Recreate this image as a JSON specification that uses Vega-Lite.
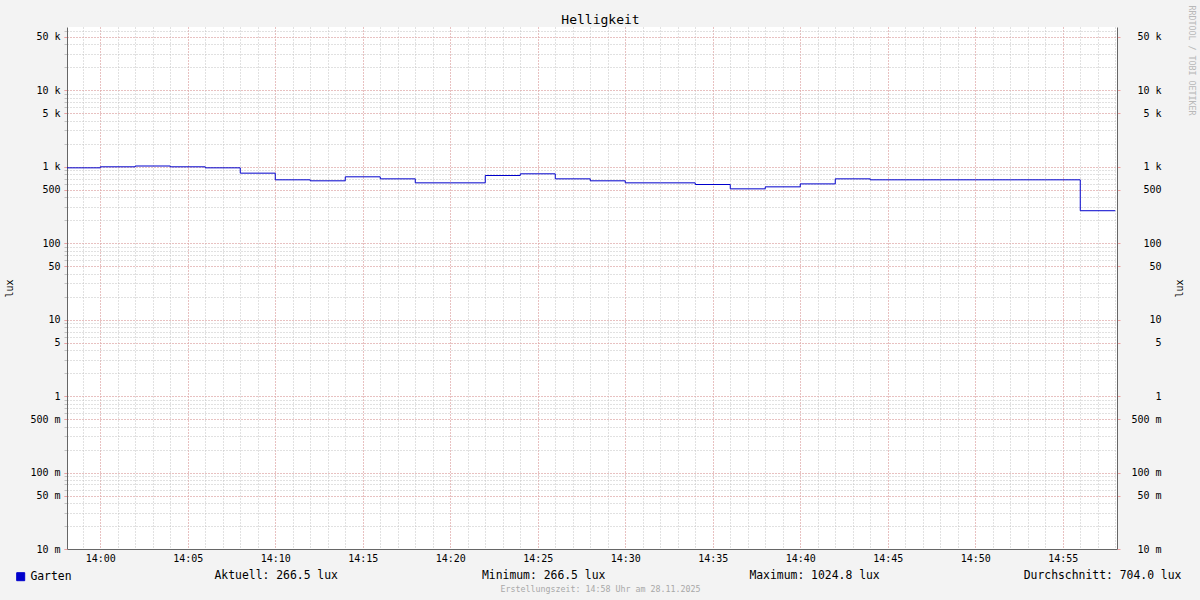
{
  "$schema": "https://vega.github.io/schema/vega-lite/v6.json",
  "width": 1050,
  "height": 522,
  "autosize": {"type": "none"},
  "padding": {"left": 67, "top": 27, "right": 83, "bottom": 51},
  "background": "#f3f3f3",
  "config": {
    "view": {"fill": "white", "stroke": null},
    "font": "DejaVu Sans Mono",
    "axis": {"labelFont": "DejaVu Sans Mono", "titleFont": "DejaVu Sans Mono", "labelColor": "#000000", "titleColor": "#000000", "titleFontWeight": "normal", "labelOverlap": false, "labelFlush": false, "zindex": 0}
  },
  "data": {
    "values": [
      {"t": "2025-11-28T13:58:00Z", "v": 970, "s": "Garten"},
      {"t": "2025-11-28T14:00:00Z", "v": 1000, "s": "Garten"},
      {"t": "2025-11-28T14:02:00Z", "v": 1024.8, "s": "Garten"},
      {"t": "2025-11-28T14:04:00Z", "v": 1000, "s": "Garten"},
      {"t": "2025-11-28T14:06:00Z", "v": 970, "s": "Garten"},
      {"t": "2025-11-28T14:08:00Z", "v": 826, "s": "Garten"},
      {"t": "2025-11-28T14:10:00Z", "v": 676, "s": "Garten"},
      {"t": "2025-11-28T14:12:00Z", "v": 656, "s": "Garten"},
      {"t": "2025-11-28T14:14:00Z", "v": 740, "s": "Garten"},
      {"t": "2025-11-28T14:16:00Z", "v": 696, "s": "Garten"},
      {"t": "2025-11-28T14:18:00Z", "v": 617, "s": "Garten"},
      {"t": "2025-11-28T14:20:00Z", "v": 617, "s": "Garten"},
      {"t": "2025-11-28T14:22:00Z", "v": 770, "s": "Garten"},
      {"t": "2025-11-28T14:24:00Z", "v": 810, "s": "Garten"},
      {"t": "2025-11-28T14:26:00Z", "v": 696, "s": "Garten"},
      {"t": "2025-11-28T14:28:00Z", "v": 656, "s": "Garten"},
      {"t": "2025-11-28T14:30:00Z", "v": 617, "s": "Garten"},
      {"t": "2025-11-28T14:32:00Z", "v": 617, "s": "Garten"},
      {"t": "2025-11-28T14:34:00Z", "v": 587, "s": "Garten"},
      {"t": "2025-11-28T14:36:00Z", "v": 515, "s": "Garten"},
      {"t": "2025-11-28T14:38:00Z", "v": 547, "s": "Garten"},
      {"t": "2025-11-28T14:40:00Z", "v": 598, "s": "Garten"},
      {"t": "2025-11-28T14:42:00Z", "v": 696, "s": "Garten"},
      {"t": "2025-11-28T14:44:00Z", "v": 676, "s": "Garten"},
      {"t": "2025-11-28T14:46:00Z", "v": 676, "s": "Garten"},
      {"t": "2025-11-28T14:48:00Z", "v": 676, "s": "Garten"},
      {"t": "2025-11-28T14:50:00Z", "v": 676, "s": "Garten"},
      {"t": "2025-11-28T14:52:00Z", "v": 676, "s": "Garten"},
      {"t": "2025-11-28T14:54:00Z", "v": 676, "s": "Garten"},
      {"t": "2025-11-28T14:56:00Z", "v": 266.5, "s": "Garten"},
      {"t": "2025-11-28T14:58:00Z", "v": 266.5, "s": "Garten"}
    ]
  },
  "resolve": {"axis": {"x": "independent", "y": "independent"}},
  "layer": [
    {
      "mark": {"type": "line", "interpolate": "step-after", "strokeOpacity": 0, "clip": true},
      "encoding": {
        "x": {
          "field": "t", "type": "temporal",
          "scale": {"type": "utc", "domain": [1764338286000, 1764341886000]},
          "axis": {
            "orient": "bottom",
            "values": [1764338340000,1764338400000,1764338460000,1764338520000,1764338580000,1764338640000,1764338700000,1764338760000,1764338820000,1764338880000,1764338940000,1764339000000,1764339060000,1764339120000,1764339180000,1764339240000,1764339300000,1764339360000,1764339420000,1764339480000,1764339540000,1764339600000,1764339660000,1764339720000,1764339780000,1764339840000,1764339900000,1764339960000,1764340020000,1764340080000,1764340140000,1764340200000,1764340260000,1764340320000,1764340380000,1764340440000,1764340500000,1764340560000,1764340620000,1764340680000,1764340740000,1764340800000,1764340860000,1764340920000,1764340980000,1764341040000,1764341100000,1764341160000,1764341220000,1764341280000,1764341340000,1764341400000,1764341460000,1764341520000,1764341580000,1764341640000,1764341700000,1764341760000,1764341820000,1764341880000],
            "labels": false, "ticks": false, "domain": false,
            "grid": true, "gridDash": [1, 2], "gridColor": "#c2c2c2",
            "title": null
          }
        },
        "y": {
          "field": "v", "type": "quantitative",
          "scale": {"type": "log", "domain": [0.01, 67500], "nice": false},
          "axis": {
            "orient": "left",
            "values": [0.01,0.02,0.03,0.04,0.05,0.06,0.07,0.08,0.09,0.1,0.2,0.3,0.4,0.5,0.6,0.7,0.8,0.9,1,2,3,4,5,6,7,8,9,10,20,30,40,50,60,70,80,90,100,200,300,400,500,600,700,800,900,1000,2000,3000,4000,5000,6000,7000,8000,9000,10000,20000,30000,40000,50000,60000],
            "labels": false, "domain": false,
            "tickSize": 3, "tickColor": "#c2c2c2",
            "grid": true, "gridDash": [1, 2], "gridColor": "#c2c2c2",
            "title": null
          }
        }
      }
    },
    {
      "mark": {"type": "line", "interpolate": "step-after", "strokeWidth": 1, "clip": true},
      "encoding": {
        "x": {
          "field": "t", "type": "temporal",
          "scale": {"type": "utc", "domain": [1764338286000, 1764341886000]},
          "axis": {
            "orient": "bottom",
            "values": [1764338400000,1764338700000,1764339000000,1764339300000,1764339600000,1764339900000,1764340200000,1764340500000,1764340800000,1764341100000,1764341400000,1764341700000],
            "format": "%H:%M",
            "labelFontSize": 10,
            "labelPadding": 4,
            "ticks": false,
            "grid": true, "gridDash": [1, 2], "gridColor": "#eea0a0",
            "domainColor": "#666666",
            "title": "Aktuell: 266.5 lux\u00a0\u00a0\u00a0\u00a0\u00a0\u00a0\u00a0\u00a0\u00a0\u00a0\u00a0\u00a0\u00a0\u00a0\u00a0\u00a0\u00a0\u00a0\u00a0\u00a0\u00a0Minimum: 266.5 lux\u00a0\u00a0\u00a0\u00a0\u00a0\u00a0\u00a0\u00a0\u00a0\u00a0\u00a0\u00a0\u00a0\u00a0\u00a0\u00a0\u00a0\u00a0\u00a0\u00a0\u00a0Maximum: 1024.8 lux\u00a0\u00a0\u00a0\u00a0\u00a0\u00a0\u00a0\u00a0\u00a0\u00a0\u00a0\u00a0\u00a0\u00a0\u00a0\u00a0\u00a0\u00a0\u00a0\u00a0\u00a0Durchschnitt: 704.0 lux",
            "titleX": 147,
            "titleY": 26,
            "titleAlign": "left",
            "titleBaseline": "middle",
            "titleFontSize": 11.4,
            "titleLimit": 2000
          }
        },
        "y": {
          "field": "v", "type": "quantitative",
          "scale": {"type": "log", "domain": [0.01, 67500], "nice": false},
          "axis": {
            "orient": "left",
            "values": [0.01,0.05,0.1,0.5,1,5,10,50,100,500,1000,5000,10000,50000],
            "labelExpr": "datum.value >= 1000 ? format(datum.value / 1000, 'd') + ' k' : datum.value >= 1 ? format(datum.value, 'd') + '\u00a0\u00a0' : format(datum.value * 1000, 'd') + ' m'",
            "labelFontSize": 10,
            "labelPadding": 4,
            "tickSize": 3,
            "tickColor": "#eea0a0",
            "grid": true, "gridDash": [1, 2], "gridColor": "#eea0a0",
            "domainColor": "#666666",
            "title": "lux",
            "titleAngle": 270,
            "titleX": -58,
            "titleY": 261,
            "titleAlign": "center",
            "titleBaseline": "middle",
            "titleFontSize": 10
          }
        },
        "color": {
          "field": "s", "type": "nominal",
          "scale": {"range": ["#0000cc"]},
          "legend": {
            "orient": "none",
            "legendX": -52,
            "legendY": 544,
            "title": null,
            "symbolType": "square",
            "symbolSize": 64,
            "symbolFillColor": "#0000cc",
            "symbolStrokeColor": "#000022",
            "symbolStrokeWidth": 1,
            "labelFont": "DejaVu Sans Mono",
            "labelFontSize": 11.4,
            "labelColor": "#000000",
            "labelOffset": 4,
            "padding": 0
          }
        }
      }
    },
    {
      "mark": {"type": "line", "interpolate": "step-after", "strokeOpacity": 0, "clip": true},
      "encoding": {
        "x": {
          "field": "t", "type": "temporal",
          "scale": {"type": "utc", "domain": [1764338286000, 1764341886000]},
          "axis": {
            "orient": "top", "labels": false, "ticks": false, "domain": false, "grid": false,
            "title": "Helligkeit",
            "titleX": 533, "titleY": -3.5,
            "titleAlign": "center", "titleBaseline": "alphabetic",
            "titleFontSize": 13
          }
        },
        "y": {
          "field": "v", "type": "quantitative",
          "scale": {"type": "log", "domain": [0.01, 67500], "nice": false},
          "axis": {
            "orient": "right",
            "values": [0.01,0.05,0.1,0.5,1,5,10,50,100,500,1000,5000,10000,50000],
            "labelExpr": "datum.value >= 1000 ? format(datum.value / 1000, 'd') + ' k' : datum.value >= 1 ? format(datum.value, 'd') + '\u00a0\u00a0' : format(datum.value * 1000, 'd') + ' m'",
            "labelFontSize": 10,
            "labelAlign": "right",
            "labelPadding": 41,
            "tickSize": 3,
            "tickColor": "#eea0a0",
            "grid": false,
            "domainColor": "#666666",
            "title": "lux",
            "titleAngle": 270,
            "titleX": 62,
            "titleY": 261,
            "titleAlign": "center",
            "titleBaseline": "middle",
            "titleFontSize": 10
          }
        }
      }
    },
    {
      "mark": {"type": "line", "interpolate": "step-after", "strokeOpacity": 0, "clip": true},
      "encoding": {
        "x": {
          "field": "t", "type": "temporal",
          "scale": {"type": "utc", "domain": [1764338286000, 1764341886000]},
          "axis": {
            "orient": "bottom", "labels": false, "ticks": false, "domain": false, "grid": false,
            "title": "Erstellungszeit: 14:58 Uhr am 28.11.2025",
            "titleX": 533, "titleY": 40,
            "titleAlign": "center", "titleBaseline": "middle",
            "titleFontSize": 8.3,
            "titleColor": "#a8a8a8"
          }
        },
        "y": {
          "field": "v", "type": "quantitative",
          "scale": {"type": "log", "domain": [0.01, 67500], "nice": false},
          "axis": {
            "orient": "right", "labels": false, "ticks": false, "domain": false, "grid": false,
            "title": "RRDTOOL / TOBI OETIKER",
            "titleAngle": 90,
            "titleX": 73.5,
            "titleY": -22,
            "titleAlign": "left",
            "titleBaseline": "middle",
            "titleFontSize": 8.3,
            "titleColor": "#b8b8b8"
          }
        }
      }
    }
  ]
}
